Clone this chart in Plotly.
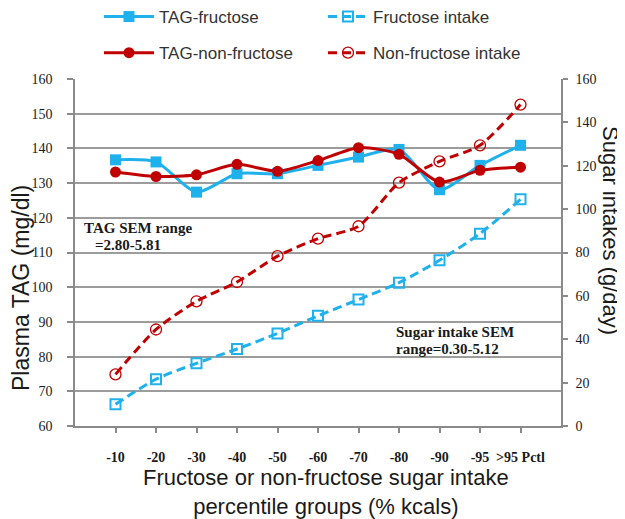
import plotly.graph_objects as go

categories = ["-10", "-20", "-30", "-40", "-50", "-60", "-70", "-80", "-90", "-95", ">95 Pctl"]
tag_fructose = [136.7, 136.1, 127.4, 132.7, 132.7, 135.1, 137.5, 139.7, 128.1, 135.1, 140.9]
tag_nonfructose = [133.2, 131.9, 132.4, 135.4, 133.4, 136.5, 140.2, 138.3, 130.3, 133.7, 134.6]
fructose_intake = [10.0, 21.6, 28.9, 35.5, 42.7, 50.8, 58.3, 66.1, 76.4, 88.7, 104.5]
nonfructose_intake = [23.8, 44.5, 57.5, 66.4, 78.3, 86.4, 92.1, 112.2, 122.0, 129.4, 148.2]

left_ticks = list(range(60, 161, 10))
right_ticks = list(range(0, 161, 20))

BLUE = "#1FB1EC"
RED = "#C00000"
SANS = "Liberation Sans, Arial, sans-serif"
SERIF = "Liberation Serif, Times New Roman, serif"

fig = go.Figure()
fig.add_trace(go.Scatter(
    x=categories, y=tag_fructose, name="TAG-fructose", mode="lines+markers",
    line=dict(color=BLUE, width=3, shape="spline", smoothing=0.7),
    marker=dict(symbol="square", size=11, color=BLUE),
    legend="legend", legendgroup="a", yaxis="y"))
fig.add_trace(go.Scatter(
    x=categories, y=tag_nonfructose, name="TAG-non-fructose", mode="lines+markers",
    line=dict(color=RED, width=3, shape="spline", smoothing=0.7),
    marker=dict(symbol="circle", size=11, color=RED),
    legend="legend", legendgroup="b", yaxis="y"))
fig.add_trace(go.Scatter(
    x=categories, y=fructose_intake, name="Fructose intake", mode="lines+markers",
    line=dict(color=BLUE, width=3, dash="9px,5px", shape="spline", smoothing=0.7),
    marker=dict(symbol="square-open", size=10, color=BLUE, line=dict(width=2, color=BLUE)),
    legend="legend2", legendgroup="c", yaxis="y2"))
fig.add_trace(go.Scatter(
    x=categories, y=nonfructose_intake, name="Non-fructose intake", mode="lines+markers",
    line=dict(color=RED, width=3, dash="9px,5px", shape="spline", smoothing=0.7),
    marker=dict(symbol="circle-open", size=11, color=RED, line=dict(width=1.3, color=RED)),
    legend="legend2", legendgroup="d", yaxis="y2"))

# page body has an 8px margin: figure sized 617x511 so that the plot area sits at 75..561 x 79..426 on screen
PW = 486.0
PH = 347.0
def px(xp):
    return (xp - 75) / PW
def py(yp):
    return (426 - yp) / PH

ann_font = dict(family=SERIF, size=15, color="#1a1a1a")
annotations = [
    dict(text="<b>TAG SEM range</b>", x=px(82), y=py(228), xanchor="left", yanchor="middle", font=ann_font),
    dict(text="<b>=2.80-5.81</b>", x=px(93), y=py(245), xanchor="left", yanchor="middle", font=ann_font),
    dict(text="<b>Sugar intake SEM</b>", x=px(394), y=py(332), xanchor="left", yanchor="middle", font=ann_font),
    dict(text="<b>range=0.30-5.12</b>", x=px(394), y=py(349), xanchor="left", yanchor="middle", font=ann_font),
    dict(text="Plasma TAG (mg/dl)", x=px(21), y=py(288), textangle=-90, xanchor="center", yanchor="middle",
         font=dict(family=SANS, size=23, color="#1a1a1a")),
    dict(text="Sugar intakes (g/day)", x=px(611), y=py(230), textangle=90, xanchor="center", yanchor="middle",
         font=dict(family=SANS, size=22, color="#1a1a1a")),
    dict(text="Fructose or non-fructose sugar intake<br>percentile groups (% kcals)", x=px(326), y=py(492),
         xanchor="center", yanchor="middle", font=dict(family=SANS, size=22, color="#1a1a1a")),
]
for a in annotations:
    a.update(xref="paper", yref="paper", showarrow=False)

tick_font = dict(family=SERIF, size=14, color="#1a1a1a")
legend_font = dict(family=SANS, size=17, color="#333333")

fig.update_layout(
    width=617, height=511,
    margin=dict(l=67, r=64, t=71, b=93, autoexpand=False),
    paper_bgcolor="white", plot_bgcolor="white",
    annotations=annotations,
    xaxis=dict(type="category", categoryorder="array", categoryarray=categories,
               range=[-1, 11], showgrid=False, zeroline=False,
               showline=True, linecolor="#8a8a8a", linewidth=1.5,
               ticks="outside", ticklen=5, tickcolor="#8a8a8a", tickwidth=1.5,
               tickfont=tick_font, ticklabelstandoff=12,
               tickprefix="<b>", ticksuffix="</b>"),
    yaxis=dict(range=[60, 160], tickvals=left_ticks, showgrid=True, gridcolor="#9c9c9c", gridwidth=1.5,
               zeroline=False, showline=True, linecolor="#8a8a8a", linewidth=1.5,
               ticks="outside", ticklen=6, tickcolor="#8a8a8a", tickwidth=1.5,
               tickfont=tick_font, ticklabelstandoff=12,
               tickprefix="<b>", ticksuffix="</b>"),
    yaxis2=dict(range=[0, 160], tickvals=right_ticks, overlaying="y", side="right", showgrid=False,
                zeroline=False, showline=True, linecolor="#8a8a8a", linewidth=1.5,
                ticks="outside", ticklen=5, tickcolor="#8a8a8a", tickwidth=1.5,
                tickfont=tick_font, ticklabelstandoff=5,
                tickprefix="<b>", ticksuffix="</b>"),
    legend=dict(x=px(99), y=py(-1), xanchor="left", yanchor="top", orientation="v",
                font=legend_font, itemwidth=50, tracegroupgap=11, bgcolor="rgba(0,0,0,0)",
                itemclick=False),
    legend2=dict(x=px(323), y=py(-1), xanchor="left", yanchor="top", orientation="v",
                 font=legend_font, itemwidth=40, tracegroupgap=11, bgcolor="rgba(0,0,0,0)",
                 itemclick=False),
    showlegend=True,
)

fig.write_html("out.html")
